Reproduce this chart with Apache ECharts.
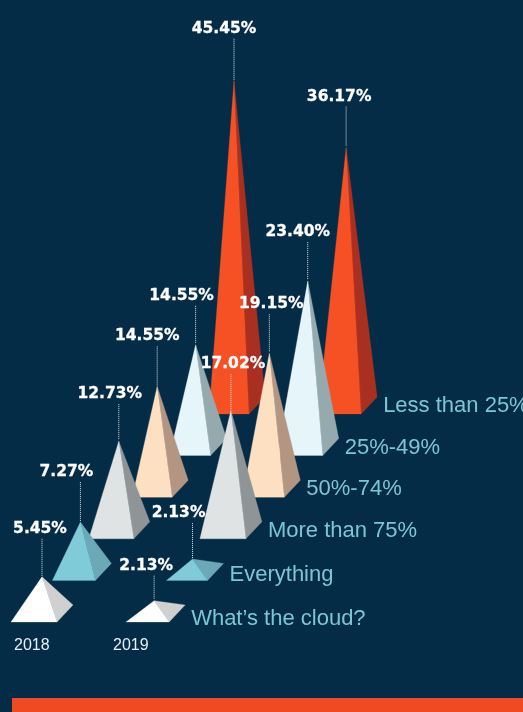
<!DOCTYPE html>
<html>
<head>
<meta charset="utf-8">
<style>html,body{margin:0;padding:0;background:#042c47}#c{width:523px;height:712px}</style>
<script src="https://cdn.jsdelivr.net/npm/echarts@6/dist/echarts.min.js"></script>
</head>
<body>
<div id="c"></div>
<script>
// Data
var categories = ["What\u2019s the cloud?", "Everything", "More than 75%", "50%-74%", "25%-49%", "Less than 25%"];
var years = ["2018", "2019"];
var values2018 = [5.45, 7.27, 12.73, 14.55, 14.55, 45.45];
var values2019 = [2.13, 2.13, 17.02, 19.15, 23.40, 36.17];

// Styling and layout
var frontColors = ["#ffffff", "#7fcbd8", "#dfe3e4", "#fde0c2", "#e6f5fa", "#f55124"];
var sideColors  = ["#d0d0d0", "#6ca9b6", "#8f9496", "#b39682", "#94aaae", "#a93021"];
var yearShift = [0, 2.92];        // x-axis slots between the two year groups
var depthStep = 5.78;             // axis units each row sits above the one before
var apexBias = 0.83;              // small plinth added to every height, axis units
var frontReach = [[31, 28, 30, 25, 26, 25], [28, 26, 31, 27, 31, 28]];
var labelShift = [[-2, -14, -9, -10, -14, -10], [-8, -14, 2, 2, -10, -7]];
var labelLift  = [[48, 50, 47, 50, 49, 52], [35, 46, 46, 49, 49, 51]];
var legendLift = [3, 5, 8, 8, 8, 8];

var pyramidSeries = categories.map(function (name, d) {
  return {
    type: "custom", name: name, coordinateSystem: "cartesian2d", silent: true,
    z: 10 + (5 - d), clip: false,
    data: [[d + yearShift[0], d * depthStep, values2018[d], 0], [d + yearShift[1], d * depthStep, values2019[d], 1]],
    renderItem: function (params, api) {
      var base = api.coord([api.value(0), api.value(1)]);
      var top = api.coord([api.value(0), api.value(1) + api.value(2) + apexBias]);
      var y = api.value(3);
      var A = top, FL = [top[0] - frontReach[y][d], base[1]], FR = [top[0] + 15, base[1]], BR = [top[0] + 31, base[1] - 17];
      return { type: "group", children: [
        { type: "polygon", shape: { points: [FR, BR, A] }, style: { fill: sideColors[d], stroke: sideColors[d], lineWidth: 0.3 } },
        { type: "polygon", shape: { points: [FL, FR, A] }, style: { fill: frontColors[d], stroke: frontColors[d], lineWidth: 0.3 } }
      ]};
    }
  };
});

function annotationSeries(values, y) {
  return {
    type: "custom", name: years[y] + " labels", coordinateSystem: "cartesian2d", silent: true, z: 40, clip: false,
    data: values.map(function (v, d) { return [d + yearShift[y], d * depthStep, v, d]; }),
    renderItem: function (params, api) {
      var d = api.value(3), v = api.value(2);
      var base = api.coord([api.value(0), api.value(1)]);
      var top = api.coord([api.value(0), api.value(1) + v + apexBias]);
      var lift = labelLift[y][d], labelY = top[1] - lift;
      var kids = [
        { type: "line", shape: { x1: top[0], y1: labelY + 10, x2: top[0], y2: top[1] - 1 },
          style: { stroke: "#dfe6ea", lineWidth: 1, lineDash: [1, 1] } },
        { type: "text", style: { text: v.toFixed(2) + "%", x: top[0] + labelShift[y][d], y: labelY,
          fill: "#ffffff", stroke: "#ffffff", lineWidth: 0.3, font: "bold 15.5px 'DejaVu Sans'", align: "center", verticalAlign: "middle" } }
      ];
      if (y === 1) kids.push({ type: "text", style: { text: categories[d], x: top[0] + 37, y: base[1] - legendLift[d],
          fill: "#7cc6d4", font: "22px 'Liberation Sans'", align: "left", verticalAlign: "middle" } });
      return { type: "group", children: kids };
    }
  };
}

var chart = echarts.init(document.getElementById("c"), null, { renderer: "canvas" });
chart.setOption({
  animation: false,
  backgroundColor: "#042c47",
  grid: { left: 0, right: 0, top: 0, bottom: 0 },
  xAxis: { type: "value", min: -1.09375, max: 12.526, show: false },
  yAxis: { type: "value", min: -12.5, max: 86.39, show: false },
  series: pyramidSeries.concat([annotationSeries(values2018, 0), annotationSeries(values2019, 1)]),
  graphic: [
    { type: "rect", left: 12, top: 698, shape: { width: 511, height: 14 }, style: { fill: "#f04a23" } },
    { type: "text", left: 14, top: 638, style: { text: years[0], fill: "#e8eef2", font: "16px 'Liberation Sans'" } },
    { type: "text", left: 113, top: 638, style: { text: years[1], fill: "#e8eef2", font: "16px 'Liberation Sans'" } }
  ]
});
</script>
</body>
</html>
